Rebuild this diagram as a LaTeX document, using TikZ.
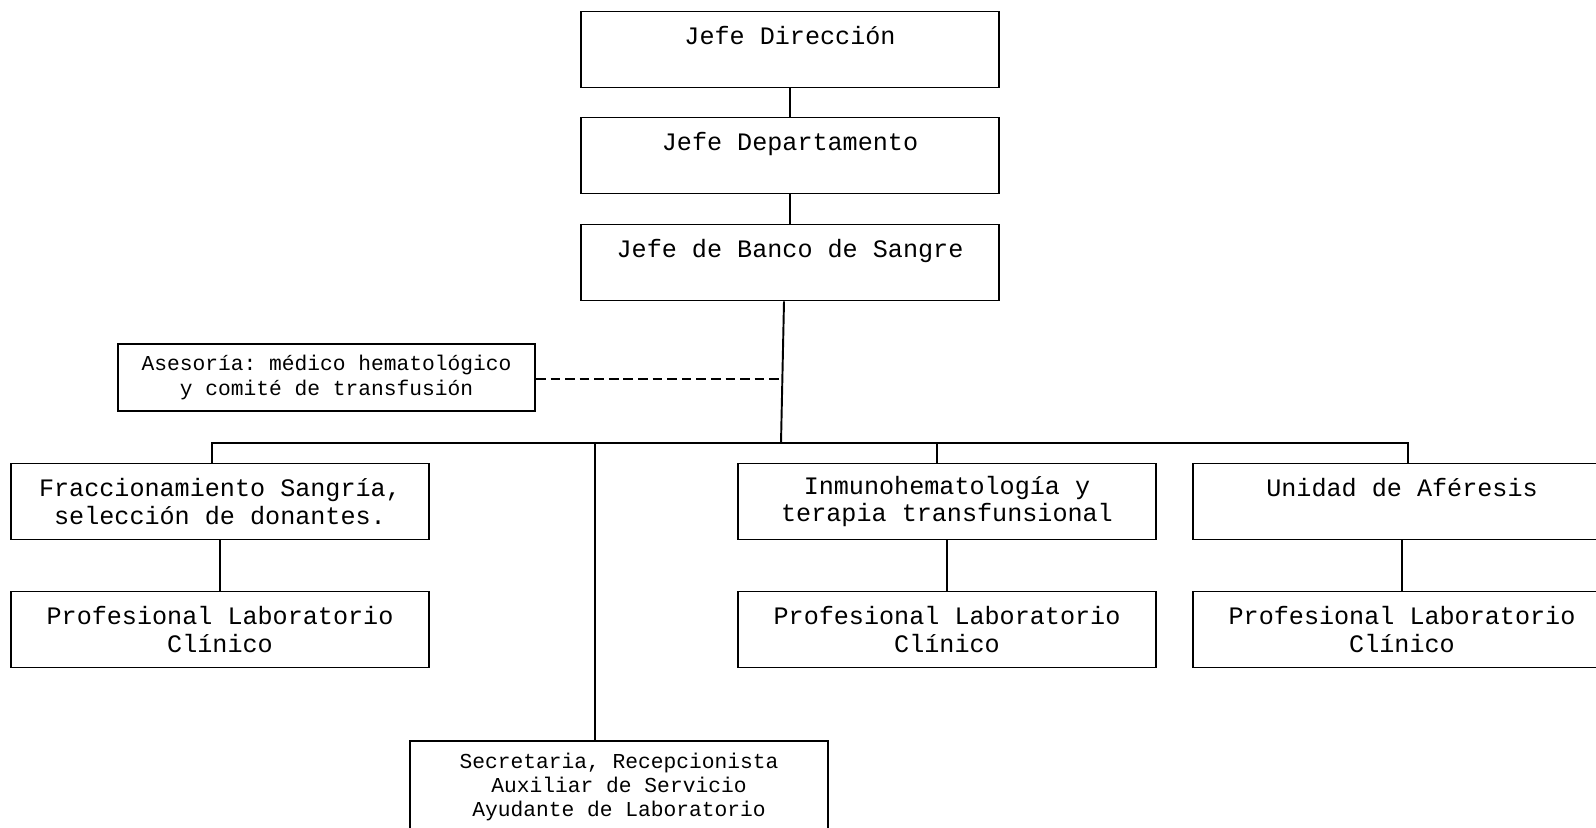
\documentclass[tikz,border=0pt]{standalone}
\usepackage{fontspec}
\setmonofont{Liberation Mono}
\usetikzlibrary{calc, positioning}

\begin{document}
\begin{tikzpicture}[
        x=0.02cm, y=-0.02cm,
        line width=1.1pt,
        box/.style={
            draw, rectangle, inner sep=0pt,
            minimum width=8.36cm,
            minimum height=1.52cm,
            align=center,
            font=\ttfamily\fontsize{14.3}{15.6}\selectfont
        },
        smallbox/.style={
            box,
            font=\ttfamily\fontsize{12.1}{13.8}\selectfont
        },
        advice/.style={
            dashed, dash pattern=on 5.5pt off 2.8pt
        },
    ]
    \useasboundingbox (0,0) rectangle (1596,828);

    %============================================================
    % Chain of command
    %============================================================
    \node[box] (DIR)   at (790,49.5)  {Jefe Dirección\\~};
    \node[box] (DEP)   at (790,155.5) {Jefe Departamento\\~};
    \node[box] (BANCO) at (790,262.5) {Jefe de Banco de Sangre\\~};

    \draw (DIR) -- (DEP);
    \draw (DEP) -- (BANCO);

    %============================================================
    % Advisory box
    %============================================================
    \node[smallbox, minimum width=8.34cm, minimum height=1.34cm] (ASES) at (326.5,377.5)
        {Asesoría: médico hematológico\\y comité de transfusión};

    %============================================================
    % Units
    %============================================================
    \node[box] (FRAC)  at (220,501.5)  {Fraccionamiento Sangría,\\selección de donantes.};
    \node[box] (PROF1) at (220,629.5)  {Profesional Laboratorio\\Clínico};
    \node[box] (INMU)  at (947,501.5)  {Inmunohematología y\\terapia transfunsional};
    \node[box] (PROF2) at (947,629.5)  {Profesional Laboratorio\\Clínico};
    \node[box] (AFER)  at (1402,501.5) {Unidad de Aféresis\\~};
    \node[box] (PROF3) at (1402,629.5) {Profesional Laboratorio\\Clínico};
    \node[smallbox, minimum height=1.84cm] (SECR) at (619,787)
        {Secretaria, Recepcionista\\Auxiliar de Servicio\\Ayudante de Laboratorio};

    %============================================================
    % Bus
    %============================================================
    \coordinate (bus)  at (781,443);
    \coordinate (busL) at (212,443);
    \coordinate (busR) at (1408,443);

    \draw ($(BANCO.south)+(-6,0)$) -- (bus);
    \draw[advice] ($(ASES.east)+(0,1.5)$) coordinate (asesOut) -- (asesOut -| 783,0);

    \draw (FRAC.north -| busL) -- (busL) -- (busR) -- (AFER.north -| busR);
    \foreach \xx/\dst in {595/SECR, 937/INMU}{
        \draw (\xx,443) -- (\dst.north -| \xx,443);
    }

    \draw (FRAC) -- (PROF1);
    \draw (INMU) -- (PROF2);
    \draw (AFER) -- (PROF3);

\end{tikzpicture}
\end{document}
